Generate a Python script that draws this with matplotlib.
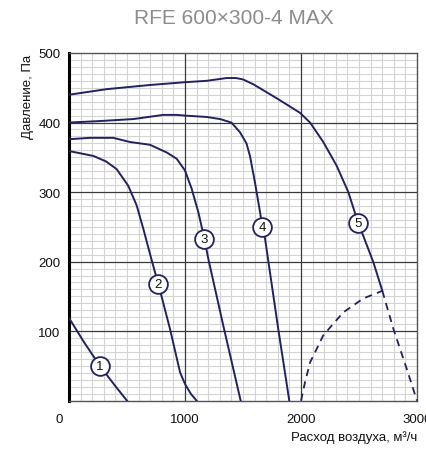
import numpy as np
import matplotlib
matplotlib.use('Agg')
import matplotlib.pyplot as plt
import matplotlib.transforms as mtransforms

plt.rcParams['font.family'] = ['Liberation Sans', 'DejaVu Sans']

navy = '#22225f'

# fan curves (flow m3/h, pressure Pa)
c1_x = [0, 130, 267, 390, 500]
c1_y = [119, 84, 50, 23, 0]
c2_x = [0, 210, 320, 411, 511, 583, 641, 700, 741, 770, 871, 957, 1000, 1050, 1100]
c2_y = [359, 352, 344, 333, 309, 281, 247, 210, 185, 168, 103, 41, 24, 10, 0]
c3_x = [0, 181, 382, 526, 698, 842, 928, 1000, 1057, 1115, 1167, 1201, 1330, 1480]
c3_y = [376, 378, 378, 372, 368, 357, 348, 331, 305, 271, 233, 204, 108, 0]
c4_x = [0, 250, 555, 813, 928, 1000, 1187, 1302, 1400, 1474, 1530, 1560, 1603, 1647, 1666, 1690, 1804, 1899]
c4_y = [400, 402, 405, 411, 411, 410, 408, 405, 400, 386, 370, 352, 314, 271, 250, 233, 103, 0]
c5_x = [0, 325, 698, 1000, 1187, 1359, 1440, 1500, 1589, 1790, 1991, 2078, 2192, 2307, 2408, 2494, 2537, 2624, 2701]
c5_y = [440, 448, 454, 458, 460, 464, 464, 462, 455, 435, 414, 400, 372, 338, 300, 255, 237, 199, 158]

# dashed parts
sys_x = [2000, 2034, 2078, 2192, 2364, 2537, 2701]
sys_y = [0, 26, 55, 94, 127, 147, 158]
ext_x = [2701, 2797, 2911, 3000]
ext_y = [158, 103, 46, 0]

# curve number markers
lab_n = ['1', '2', '3', '4', '5']
lab_x = [267, 770, 1167, 1666, 2494]
lab_y = [50, 168, 233, 250, 255]

xticks = [0, 1000, 2000, 3000]
yticks = [100, 200, 300, 400, 500]

fig = plt.figure(figsize=(4.27, 4.52), dpi=100)
ax = fig.add_axes([69/427, 1-401.7/452, (417-69)/427, (401.7-54)/452])

ax.set_xlim(0, 3000)
ax.set_ylim(0, 500)
ax.set_xticks(xticks)
ax.set_yticks(yticks)
ax.set_xticks(np.arange(0, 3001, 100), minor=True)
ax.set_yticks(np.arange(0, 501, 10), minor=True)
ax.grid(which='minor', color='#d4d4d4', lw=0.8)
ax.set_axisbelow(True)
# major grid drawn as lines so the minor grid does not cross over it
for v in xticks[1:3]:
    ax.axvline(v, color='#3a3a3a', lw=0.9, zorder=1)
for h in yticks[:4]:
    ax.axhline(h, color='#3a3a3a', lw=0.9, zorder=1)
ax.tick_params(which='both', length=0, labelsize=9.5, colors='#111111')
ax.tick_params(axis='x', pad=9)
ax.tick_params(axis='y', pad=6)

for s in ['top', 'right', 'bottom']:
    ax.spines[s].set_color('#555555')
    ax.spines[s].set_linewidth(1.0)
ax.spines['left'].set_color('black')
ax.spines['left'].set_linewidth(2.2)

# shift the "0" label a bit left like the original
lbl0 = ax.get_xticklabels()[0]
lbl0.set_transform(lbl0.get_transform() + mtransforms.ScaledTranslation(-10/100, 0, fig.dpi_scale_trans))

for xs, ys in [(c1_x, c1_y), (c2_x, c2_y), (c3_x, c3_y), (c4_x, c4_y), (c5_x, c5_y)]:
    ax.plot(xs, ys, '-', color=navy, lw=1.4, zorder=3)
ax.plot(sys_x, sys_y, '--', color=navy, lw=1.3, dashes=(4, 3), zorder=3, clip_on=False)
ax.plot(ext_x, ext_y, '--', color=navy, lw=1.3, dashes=(4, 3), zorder=3, clip_on=False)

for n, x, y in zip(lab_n, lab_x, lab_y):
    ax.plot(x, y, 'o', ms=13.5, mfc='white', mec=navy, mew=1.3, zorder=4)
    ax.text(x, y, n, ha='center', va='center', fontsize=9.5, color='#111111', zorder=5)

fig.text(234/427, 1-18/452, 'RFE 600×300-4 MAX', ha='center', va='center',
         fontsize=15, color='#8c8c8c')
fig.text(417/427, 1-438/452, 'Расход воздуха, м³/ч', ha='right', va='center',
         fontsize=9.5, color='#111111')
fig.text(28/427, 1-55/452, 'Давление, Па', ha='center', va='top', rotation=90,
         fontsize=9.5, color='#111111')

fig.savefig('out.png', dpi=100)
